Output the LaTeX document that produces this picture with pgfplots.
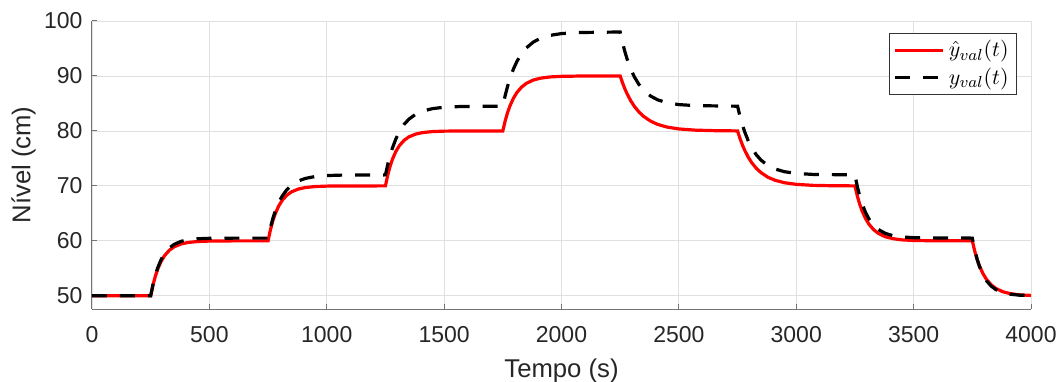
\documentclass[border=0pt]{standalone}
\usepackage{fontspec}
\setmainfont{Liberation Sans}
\usepackage{pgfplots}
\pgfplotsset{compat=1.18}
\definecolor{axgray}{gray}{0.45}
\definecolor{txtgray}{gray}{0.15}
\definecolor{gridgray}{gray}{0.88}
\begin{document}
\begin{tikzpicture}
\begin{axis}[
  scale only axis,
  width=469.5pt, height=144pt,
  xmin=0, xmax=4000, ymin=47.6, ymax=100,
  xtick={0,500,...,4000}, ytick={50,60,...,100},
  axis x line*=bottom, axis y line*=left,
  axis line style={axgray, line width=0.5pt},
  tick style={axgray, line width=0.5pt},
  tick align=inside, major tick length=2.5pt,
  grid=major, grid style={gridgray, line width=0.4pt},
  /pgf/number format/assume math mode=true,
  /pgf/number format/1000 sep={},
  ticklabel style={font=\fontsize{11.5pt}{12pt}\selectfont, text=txtgray},
  xticklabel style={anchor=base, yshift=-16.5pt},
  yticklabel style={anchor=east, xshift=-1.2pt},
  xlabel={Tempo (s)}, ylabel={Nível (cm)},
  every axis x label/.style={at={(axis description cs:0.5,-0.2361)}, anchor=base,
    font=\fontsize{12.85pt}{14pt}\selectfont, text=txtgray},
  every axis y label/.style={at={(axis description cs:-0.073,0.5)}, rotate=90, anchor=center,
    font=\fontsize{12.85pt}{14pt}\selectfont, text=txtgray},
  legend style={at={(axis description cs:0.9851,0.9583)}, anchor=north east, draw=black!80, line width=0.4pt,
    font=\fontsize{11pt}{12pt}\selectfont, inner xsep=2pt, inner ysep=1.5pt, row sep=0pt,
    cells={anchor=west}},
  legend cell align=left,
  legend image code/.code={\draw[#1] (0pt,0pt) -- (24pt,0pt);},
]
\addplot[red, line width=1.6pt] coordinates {
(0,50) (250,50)
(260,51.99) (270,53.59) (280,54.87) (295,56.32) (310,57.36) (330,58.31) (350,58.92) (380,59.44) (410,59.71) (450,59.88) (500,59.96) (570,59.99) (750,60)
(760,61.99) (770,63.59) (780,64.87) (795,66.32) (810,67.36) (830,68.31) (850,68.92) (880,69.44) (910,69.71) (950,69.88) (1000,69.96) (1070,69.99) (1250,70)
(1260,71.99) (1270,73.59) (1280,74.87) (1295,76.32) (1310,77.36) (1330,78.31) (1350,78.92) (1380,79.44) (1410,79.71) (1450,79.88) (1500,79.96) (1570,79.99) (1750,80)
(1760,81.81) (1770,83.30) (1780,84.51) (1795,85.93) (1810,86.99) (1830,87.98) (1850,88.65) (1880,89.26) (1910,89.59) (1950,89.82) (2000,89.93) (2070,89.98) (2250,90)
(2260,88.75) (2270,87.66) (2280,86.70) (2295,85.49) (2310,84.49) (2330,83.44) (2350,82.64) (2380,81.77) (2410,81.18) (2450,80.70) (2500,80.36) (2570,80.14) (2650,80.05) (2750,80)
(2760,78.67) (2770,77.52) (2780,76.51) (2795,75.26) (2810,74.24) (2830,73.19) (2850,72.40) (2880,71.56) (2910,71.02) (2950,70.57) (3000,70.28) (3070,70.10) (3150,70.03) (3250,70)
(3260,68.19) (3270,66.70) (3280,65.49) (3295,64.07) (3310,63.01) (3330,62.02) (3350,61.35) (3380,60.74) (3410,60.41) (3450,60.18) (3500,60.07) (3570,60.02) (3750,60)
(3760,58.19) (3770,56.70) (3780,55.49) (3795,54.07) (3810,53.01) (3830,52.02) (3850,51.35) (3880,50.74) (3910,50.41) (3950,50.18) (4000,50.07)
};
\addlegendentry{$\hat{y}_{val}(t)$}
\addplot[black, line width=1.6pt, dash pattern=on 7.5pt off 6.5pt] coordinates {
(0,50) (250,50)
(260,52.09) (270,53.77) (280,55.11) (295,56.64) (310,57.73) (330,58.73) (350,59.36) (380,59.92) (410,60.20) (450,60.38) (500,60.46) (570,60.49) (750,60.5)
(760,62.41) (770,64.01) (780,65.34) (795,66.93) (810,68.14) (830,69.31) (850,70.13) (880,70.92) (910,71.37) (950,71.70) (1000,71.88) (1070,71.97) (1250,72)
(1260,73.92) (1270,75.54) (1280,76.92) (1295,78.60) (1310,79.90) (1330,81.21) (1350,82.14) (1380,83.07) (1410,83.63) (1450,84.05) (1500,84.31) (1570,84.44) (1750,84.5)
(1760,86.43) (1770,88.08) (1780,89.49) (1795,91.24) (1810,92.64) (1830,94.06) (1850,95.10) (1880,96.17) (1910,96.85) (1950,97.38) (2000,97.71) (2070,97.90) (2250,98)
(2260,96.07) (2270,94.42) (2280,93.01) (2295,91.26) (2310,89.86) (2330,88.44) (2350,87.40) (2380,86.33) (2410,85.65) (2450,85.12) (2500,84.79) (2570,84.60) (2750,84.5)
(2760,82.72) (2770,81.19) (2780,79.88) (2795,78.25) (2810,76.97) (2830,75.65) (2850,74.68) (2880,73.69) (2910,73.07) (2950,72.58) (3000,72.27) (3070,72.09) (3250,72)
(3260,69.92) (3270,68.21) (3280,66.81) (3295,65.18) (3310,63.96) (3330,62.82) (3350,62.06) (3380,61.35) (3410,60.97) (3450,60.71) (3500,60.58) (3570,60.52) (3750,60.5)
(3760,58.41) (3770,56.73) (3780,55.39) (3795,53.86) (3810,52.77) (3830,51.77) (3850,51.14) (3880,50.58) (3910,50.30) (3950,50.12) (4000,50.04)
};
\addlegendentry{$y_{val}(t)$}
\end{axis}
\path (current axis.south west) ++(-46pt,-36pt) coordinate (bbA);
\path (current axis.north east) ++(13.5pt,10.5pt) coordinate (bbB);
\pgfresetboundingbox
\path[use as bounding box] (bbA) rectangle (bbB);
\end{tikzpicture}
\end{document}
